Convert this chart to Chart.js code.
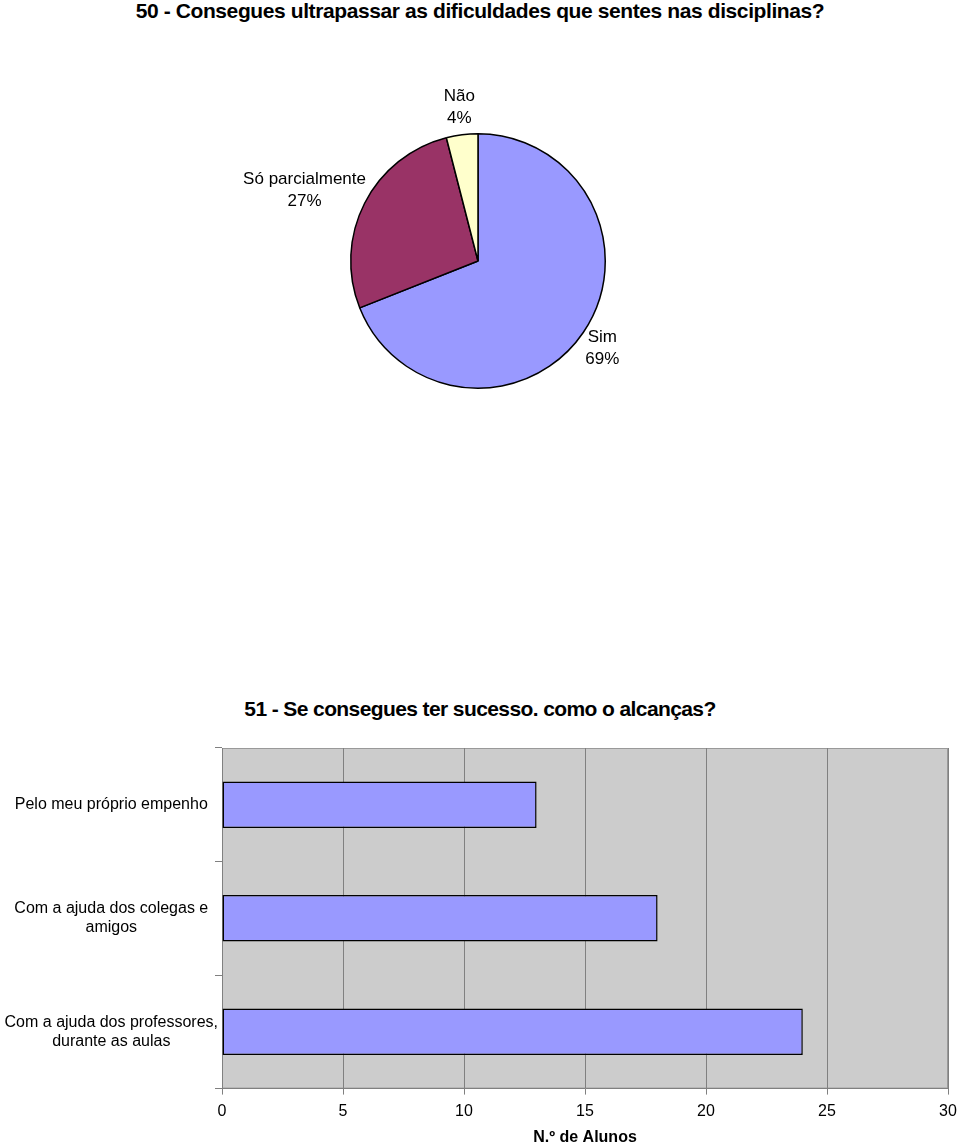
<!DOCTYPE html>
<html>
<head>
<meta charset="utf-8">
<script src="https://cdn.jsdelivr.net/npm/chart.js@4"></script>
<style>
  html, body { margin: 0; padding: 0; background: #fff; }
  body { width: 960px; height: 1147px; position: relative; overflow: hidden; font-family: "Liberation Sans", Arial, sans-serif; }
  .titulo { position: absolute; left: 0; width: 960px; text-align: center; font-weight: bold; font-size: 21px; letter-spacing: -0.4px; line-height: 24px; color: #000; }
  #pieWrap { position: absolute; left: 0; top: 0; width: 960px; height: 680px; }
  #barWrap { position: absolute; left: 0; top: 740px; width: 960px; height: 407px; }
</style>
</head>
<body>
<div class="titulo" style="top:-1px">50 - Consegues ultrapassar as dificuldades que sentes nas disciplinas?</div>
<div class="titulo" style="top:697px; letter-spacing:-0.6px">51 - Se consegues ter sucesso. como o alcanças?</div>
<div id="pieWrap"><canvas id="pieChart"></canvas></div>
<div id="barWrap"><canvas id="barChart"></canvas></div>
<script>
// Dados do gráfico circular (pergunta 50)
const pieLabels = ["Sim", "Só parcialmente", "Não"];
const pieValues = [69, 27, 4];
const pieColors = ["#9999FF", "#993366", "#FFFFCC"];

// Dados do gráfico de barras (pergunta 51)
const barLabels = [
  "Pelo meu próprio empenho",
  ["Com a ajuda dos colegas e", "amigos"],
  ["Com a ajuda dos professores,", "durante as aulas"]
];
const barValues = [13, 18, 24];
const xTicks = [0, 5, 10, 15, 20, 25, 30];

Chart.defaults.font.family = '"Liberation Sans", Arial, sans-serif';
Chart.defaults.color = "#000";

// Etiquetas fora das fatias, como no Excel
const pieLabelPlugin = {
  id: "pieLabelPlugin",
  afterDraw(chart) {
    const ctx = chart.ctx;
    const meta = chart.getDatasetMeta(0);
    const lineH = 22;
    ctx.save();
    ctx.font = "17px 'Liberation Sans', Arial, sans-serif";
    ctx.fillStyle = "#000";
    ctx.textAlign = "center";
    ctx.textBaseline = "middle";
    meta.data.forEach((arc, i) => {
      const mid = (arc.startAngle + arc.endAngle) / 2;
      const dx = Math.cos(mid), dy = Math.sin(mid);
      const d = arc.outerRadius + 6;
      const lines = [pieLabels[i], pieValues[i] + "%"];
      const w = Math.max(...lines.map(t => ctx.measureText(t).width));
      const h = lines.length * lineH;
      const cx = arc.x + dx * d + dx * w / 2;
      const cy = arc.y + dy * d + dy * h / 2;
      lines.forEach((t, k) => {
        ctx.fillText(t, cx, cy - h / 2 + lineH / 2 + k * lineH);
      });
    });
    ctx.restore();
  }
};

new Chart(document.getElementById("pieChart"), {
  type: "pie",
  data: {
    labels: pieLabels,
    datasets: [{
      data: pieValues,
      backgroundColor: pieColors,
      borderColor: "#000",
      borderWidth: 1.5
    }]
  },
  options: {
    responsive: true,
    maintainAspectRatio: false,
    animation: false,
    layout: { padding: { left: 350, right: 354, top: 133, bottom: 291 } },
    plugins: { legend: { display: false }, tooltip: { enabled: false } }
  },
  plugins: [pieLabelPlugin]
});

// Fundo cinzento da área do gráfico
const plotBg = {
  id: "plotBg",
  beforeDraw(chart) {
    const a = chart.chartArea;
    const ctx = chart.ctx;
    ctx.save();
    ctx.fillStyle = "#CCCCCC";
    ctx.fillRect(a.left, a.top, a.right - a.left, a.bottom - a.top);
    ctx.strokeStyle = "#999999";
    ctx.lineWidth = 1;
    ctx.strokeRect(a.left + 0.5, a.top + 0.5, a.right - a.left - 1, a.bottom - a.top - 1);
    ctx.restore();
  }
};

new Chart(document.getElementById("barChart"), {
  type: "bar",
  data: {
    labels: barLabels,
    datasets: [{
      data: barValues,
      backgroundColor: "#9999FF",
      borderColor: "#000",
      borderWidth: 1.5,
      borderSkipped: false,
      categoryPercentage: 1,
      barPercentage: 0.41
    }]
  },
  options: {
    indexAxis: "y",
    responsive: true,
    maintainAspectRatio: false,
    animation: false,
    layout: { padding: { left: 0, right: 12, top: 8, bottom: 0 } },
    plugins: { legend: { display: false }, tooltip: { enabled: false } },
    scales: {
      x: {
        min: 0,
        max: 30,
        afterBuildTicks: axis => { axis.ticks = xTicks.map(v => ({ value: v })); },
        afterFit: axis => { axis.paddingLeft = 0; axis.paddingRight = 0; },
        ticks: { font: { size: 16 }, padding: 7, maxRotation: 0 },
        grid: { color: "#808080", tickLength: 6, lineWidth: 1 },
        border: { color: "#808080" },
        title: {
          display: true,
          text: "N.º de Alunos",
          font: { size: 16, weight: "bold" },
          padding: { top: 0, bottom: 0 }
        }
      },
      y: {
        afterFit: axis => { axis.width = 222; axis.paddingTop = 0; axis.paddingBottom = 0; },
        ticks: { font: { size: 16 }, crossAlign: "center", padding: -3 },
        grid: { offset: true, drawOnChartArea: false, color: "#808080", tickLength: 7 },
        border: { color: "#808080" }
      }
    }
  },
  plugins: [plotBg]
});
</script>
</body>
</html>
